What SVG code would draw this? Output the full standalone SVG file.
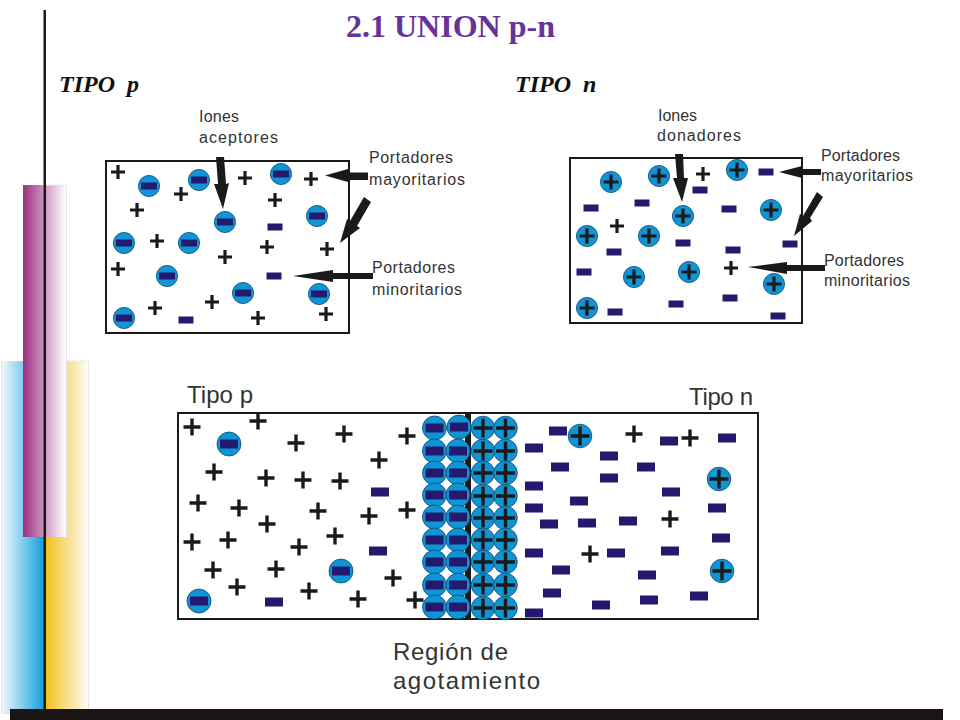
<svg xmlns="http://www.w3.org/2000/svg" width="960" height="720" viewBox="0 0 960 720">
<style>
.box{fill:#fff;stroke:#1a1a1a;stroke-width:2}
.t{font-family:"Liberation Sans",Arial,sans-serif;fill:#333}
.s{font-size:16px}
.l{font-size:24px}
.h{font-family:"Liberation Serif","Times New Roman",serif;font-weight:bold;font-style:italic;font-size:24px;fill:#111}
.a{fill:#1a1a1a}
</style>
<defs>
<linearGradient id="gb" x1="0" x2="1" y1="0" y2="0"><stop offset="0" stop-color="#f4fafd"/><stop offset="1" stop-color="#12a0dc"/></linearGradient>
<linearGradient id="gy" x1="0" x2="1" y1="0" y2="0"><stop offset="0" stop-color="#f0c018"/><stop offset="1" stop-color="#fdfcf5"/></linearGradient>
<linearGradient id="gp" x1="0" x2="1" y1="0" y2="0"><stop offset="0" stop-color="#9c2f82"/><stop offset="1" stop-color="#ffffff"/></linearGradient>
<g id="p"><path d="M-7-1.6H-1.6V-7H1.6V-1.6H7V1.6H1.6V7H-1.6V1.6H-7Z" fill="#1a1a1a"/></g>
<g id="m"><rect x="-7.5" y="-3.5" width="15" height="7" fill="#231a6e"/></g>
<g id="in"><circle r="10.6" fill="#0f94d6" stroke="#0b4a6e" stroke-width="0.8"/><rect x="-8" y="-3.5" width="16" height="7" fill="#231a6e"/></g>
<g id="ip"><circle r="10.6" fill="#0f94d6" stroke="#0b4a6e" stroke-width="0.8"/><path d="M-7.5-1.6H-1.6V-7.5H1.6V-1.6H7.5V1.6H1.6V7.5H-1.6V1.6H-7.5Z" fill="#1a1a1a"/></g>
<g id="P"><path d="M-8.5-1.7H-1.7V-8.5H1.7V-1.7H8.5V1.7H1.7V8.5H-1.7V1.7H-8.5Z" fill="#1a1a1a"/></g>
<g id="M"><rect x="-9" y="-4.5" width="18" height="9" fill="#231a6e"/></g>
<g id="In"><circle r="12" fill="#0f94d6" stroke="#0b4a6e" stroke-width="0.8"/><rect x="-9" y="-4.5" width="18" height="9" fill="#231a6e"/></g>
<g id="Ip"><circle r="11.8" fill="#0f94d6" stroke="#0b4a6e" stroke-width="0.8"/><path d="M-9.5-1.7H-1.7V-9.5H1.7V-1.7H9.5V1.7H1.7V9.5H-1.7V1.7H-9.5Z" fill="#1a1a1a"/></g>
</defs>
<rect width="960" height="720" fill="#fff"/>
<g id="background">
<rect x="1" y="361" width="43" height="352" fill="url(#gb)"/>
<rect x="45" y="361" width="43" height="348" fill="url(#gy)"/>
<path d="M1.500 361V713.500H10M88.500 361V709M66 361H88.500" fill="none" stroke="#e6e6ea"/>
<rect x="23" y="185" width="43" height="352" fill="url(#gp)"/>
<path d="M46 185H66.500V537" fill="none" stroke="#e6e6ea"/>
<rect x="43.500" y="10" width="2.500" height="700" fill="#1a1a1a"/>
<rect x="10" y="709" width="933" height="11" fill="#1a1414"/>
</g>
<text id="title" x="346" y="36.500" font-family="Liberation Serif,serif" font-weight="bold" font-size="32" fill="#663399">2.1 UNION p-n</text>
<text class="h" x="59" y="92" xml:space="preserve">TIPO  p</text>
<text class="h" x="515" y="92" xml:space="preserve">TIPO  n</text>
<g id="panel-p">
<rect class="box" x="106" y="161" width="243" height="172"/>
<use href="#p" x="118" y="172"/><use href="#p" x="181" y="194"/><use href="#p" x="137" y="210"/><use href="#p" x="245" y="178"/><use href="#p" x="311" y="179"/><use href="#p" x="275" y="200"/><use href="#p" x="157" y="241"/><use href="#p" x="267" y="247"/><use href="#p" x="327" y="249"/><use href="#p" x="225" y="257"/><use href="#p" x="118" y="269"/><use href="#p" x="212" y="302"/><use href="#p" x="155" y="308"/><use href="#p" x="258" y="318"/><use href="#p" x="326" y="314"/>
<use href="#in" x="149" y="186"/><use href="#in" x="199" y="180"/><use href="#in" x="281" y="174"/><use href="#in" x="317" y="216"/><use href="#in" x="225" y="222"/><use href="#in" x="124" y="243"/><use href="#in" x="189" y="243"/><use href="#in" x="167" y="276"/><use href="#in" x="243" y="293"/><use href="#in" x="319" y="294"/><use href="#in" x="124" y="318"/>
<use href="#m" x="275" y="227"/><use href="#m" x="274" y="276"/><use href="#m" x="186" y="320"/>
</g>
<g id="panel-n">
<rect class="box" x="570" y="158" width="232" height="165"/>
<use href="#ip" x="611" y="182"/><use href="#ip" x="659" y="176"/><use href="#ip" x="737" y="170"/><use href="#ip" x="771" y="210"/><use href="#ip" x="683" y="216"/><use href="#ip" x="587" y="236"/><use href="#ip" x="649" y="236"/><use href="#ip" x="634" y="277"/><use href="#ip" x="689" y="272"/><use href="#ip" x="774" y="284"/><use href="#ip" x="587" y="308"/>
<use href="#p" x="703" y="174"/><use href="#p" x="617" y="226"/><use href="#p" x="731" y="268"/>
<use href="#m" x="766" y="172"/><use href="#m" x="700" y="190"/><use href="#m" x="591" y="208"/><use href="#m" x="642" y="203"/><use href="#m" x="729" y="209"/><use href="#m" x="683" y="243"/><use href="#m" x="733" y="250"/><use href="#m" x="790" y="244"/><use href="#m" x="614" y="252"/><use href="#m" x="584" y="272"/><use href="#m" x="730" y="298"/><use href="#m" x="676" y="304"/><use href="#m" x="615" y="312"/><use href="#m" x="778" y="316"/>
</g>
<g id="panel-junction">
<rect class="box" x="178" y="413" width="580" height="206"/>
<rect x="465" y="413" width="6" height="206" fill="#1a1a1a"/>
<use href="#P" x="192" y="427"/><use href="#P" x="258" y="421"/><use href="#P" x="296" y="443"/><use href="#P" x="344" y="434"/><use href="#P" x="407" y="436"/><use href="#P" x="379" y="460"/><use href="#P" x="214" y="472"/><use href="#P" x="266" y="478"/><use href="#P" x="303" y="480"/><use href="#P" x="340" y="481"/><use href="#P" x="198" y="503"/><use href="#P" x="239" y="508"/><use href="#P" x="318" y="511"/><use href="#P" x="267" y="524"/><use href="#P" x="369" y="516"/><use href="#P" x="407" y="510"/><use href="#P" x="335" y="536"/><use href="#P" x="192" y="542"/><use href="#P" x="228" y="540"/><use href="#P" x="299" y="547"/><use href="#P" x="213" y="570"/><use href="#P" x="276" y="569"/><use href="#P" x="393" y="578"/><use href="#P" x="237" y="587"/><use href="#P" x="309" y="591"/><use href="#P" x="358" y="599"/><use href="#P" x="415" y="600"/>
<use href="#P" x="634" y="434"/><use href="#P" x="690" y="438"/><use href="#P" x="670" y="519"/><use href="#P" x="590" y="554"/>
<use href="#In" x="229" y="444"/><use href="#In" x="341" y="571"/><use href="#In" x="199" y="601"/>
<use href="#M" x="380" y="492"/><use href="#M" x="378" y="551"/><use href="#M" x="274" y="602"/>
<use href="#In" x="434.500" y="428"/><use href="#In" x="434.500" y="451"/><use href="#In" x="434.500" y="473"/><use href="#In" x="434.500" y="495"/><use href="#In" x="434.500" y="517"/><use href="#In" x="434.500" y="540"/><use href="#In" x="434.500" y="562"/><use href="#In" x="434.500" y="585"/><use href="#In" x="434.500" y="607"/>
<use href="#In" x="459" y="427"/><use href="#In" x="458" y="451"/><use href="#In" x="458" y="473"/><use href="#In" x="458" y="495"/><use href="#In" x="458" y="517"/><use href="#In" x="458" y="540"/><use href="#In" x="458" y="562"/><use href="#In" x="458" y="585"/><use href="#In" x="458" y="607"/>
<use href="#Ip" x="483" y="428"/><use href="#Ip" x="483" y="451"/><use href="#Ip" x="483" y="473"/><use href="#Ip" x="483" y="496"/><use href="#Ip" x="483" y="518"/><use href="#Ip" x="483" y="540"/><use href="#Ip" x="483" y="562"/><use href="#Ip" x="483" y="585"/><use href="#Ip" x="483" y="608"/>
<use href="#Ip" x="505.500" y="428"/><use href="#Ip" x="505.500" y="451"/><use href="#Ip" x="505.500" y="473"/><use href="#Ip" x="505.500" y="496"/><use href="#Ip" x="505.500" y="518"/><use href="#Ip" x="505.500" y="540"/><use href="#Ip" x="505.500" y="562"/><use href="#Ip" x="505.500" y="585"/><use href="#Ip" x="505.500" y="608"/>
<use href="#M" x="558" y="431"/><use href="#M" x="534" y="448"/><use href="#M" x="609" y="456"/><use href="#M" x="560" y="467"/><use href="#M" x="646" y="467"/><use href="#M" x="609" y="478"/><use href="#M" x="534" y="486"/><use href="#M" x="671" y="492"/><use href="#M" x="579" y="501"/><use href="#M" x="534" y="508"/><use href="#M" x="549" y="524"/><use href="#M" x="587" y="523"/><use href="#M" x="628" y="521"/><use href="#M" x="717" y="508"/><use href="#M" x="721" y="538"/><use href="#M" x="534" y="553"/><use href="#M" x="616" y="553"/><use href="#M" x="670" y="551"/><use href="#M" x="561" y="570"/><use href="#M" x="647" y="575"/><use href="#M" x="552" y="593"/><use href="#M" x="699" y="596"/><use href="#M" x="649" y="600"/><use href="#M" x="601" y="605"/><use href="#M" x="534" y="613"/><use href="#M" x="669" y="441"/><use href="#M" x="727" y="438"/>
<use href="#Ip" x="580" y="436"/><use href="#Ip" x="719" y="479"/><use href="#Ip" x="722" y="571"/>
</g>
<g id="connectors">
<polygon class="a" points="216,157 224,157 226,184 229,183 223,209 214,184 218,184"/>
<polygon class="a" points="368,172.500 368,180 348,180 348,182 325,175.500 348,169 348,172.500"/>
<polygon class="a" points="364,197 371,202 357,226 360,228 340,243 347,219 350,221"/>
<polygon class="a" points="373,273 373,279 333,279 333,282 293,276 333,270 333,273"/>
<polygon class="a" points="675,154 683,154 684,178 688,178 682,202 673,178 677,178"/>
<polygon class="a" points="821,169 821,175 802,175 802,178 779,172 802,166 802,169"/>
<polygon class="a" points="817,192 823,197 810,218 812,221 794,236 800,214 803,216"/>
<polygon class="a" points="825,265 825,271 787,271 787,274 748,267 787,262 787,265"/>
</g>
<g id="labels">
<text class="t s" x="199" y="121.500" textLength="40">Iones</text>
<text class="t s" x="199" y="142.500" textLength="79">aceptores</text>
<text class="t s" x="369" y="163" textLength="84">Portadores</text>
<text class="t s" x="369" y="184.500" textLength="96">mayoritarios</text>
<text class="t s" x="372" y="273" textLength="83">Portadores</text>
<text class="t s" x="372" y="295" textLength="90">minoritarios</text>
<text class="t s" x="658" y="120.500" textLength="39">Iones</text>
<text class="t s" x="657" y="140.500" textLength="84">donadores</text>
<text class="t s" x="821" y="160.500" textLength="79">Portadores</text>
<text class="t s" x="821" y="180.500" textLength="92">mayoritarios</text>
<text class="t s" x="824" y="265.500" textLength="80">Portadores</text>
<text class="t s" x="824" y="285.500" textLength="86">minoritarios</text>
<text class="t l" x="187" y="402.500" textLength="66">Tipo p</text>
<text class="t l" x="689" y="404.500" textLength="64">Tipo n</text>
<text class="t l" x="393" y="660" textLength="115">Región de</text>
<text class="t l" x="393" y="689" textLength="147">agotamiento</text>
</g>
</svg>
